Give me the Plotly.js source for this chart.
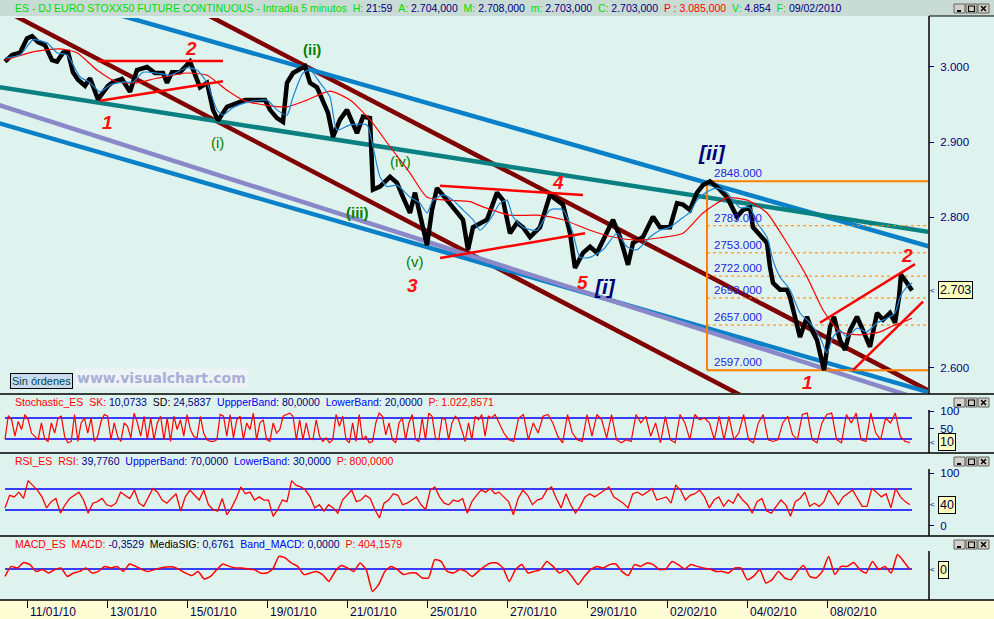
<!DOCTYPE html>
<html><head><meta charset="utf-8">
<script src="https://cdn.plot.ly/plotly-3.0.1.min.js"></script>
<style>html,body{margin:0;padding:0;background:#dff3ee;}#chart{width:994px;height:619px;}</style>
</head><body><div id="chart"></div>
<script>
// ---------------- DATA ----------------
// time axis: trading-day index (11/01/10 = 0)
const dayTicks = [0,2,4,6,8,10,12,14,16,18,20];
const dayLabels = ['11/01/10','13/01/10','15/01/10','19/01/10','21/01/10','25/01/10','27/01/10','29/01/10','02/02/10','04/02/10','08/02/10'];

const priceT = [-0.55,-0.375,-0.175,0,0.125,0.275,0.45,0.625,0.75,0.9,1.025,1.15,1.275,1.45,1.575,1.775,2.025,2.15,2.375,2.575,2.75,3.0,3.2,3.4,3.5,3.625,3.825,4.075,4.325,4.5,4.65,4.775,5.0,5.2,5.45,5.95,6.075,6.25,6.4,6.5,6.65,6.95,7.075,7.25,7.4,7.525,7.65,7.825,8.0,8.25,8.4,8.575,8.65,8.825,9.075,9.25,9.4,9.575,9.7,9.825,10.0,10.125,10.25,10.5,10.75,10.9,11.025,11.15,11.5,11.75,11.9,12.075,12.25,12.4,12.575,12.825,13.075,13.4,13.575,13.7,13.9,14.075,14.25,14.4,14.65,14.825,15.025,15.15,15.4,15.65,15.825,16.075,16.25,16.4,16.575,16.75,16.9,17.075,17.325,17.5,17.75,17.9,18.075,18.15,18.325,18.5,18.575,18.65,18.825,19.0,19.075,19.2,19.325,19.5,19.625,19.75,19.925,20.075,20.175,20.325,20.45,20.575,20.75,20.9,21.075,21.25,21.4,21.575,21.7,21.8,21.85,22.0,22.125];
const priceV = [3007,3016,3019,3038,3041,3033,3029,3009,3007,3019,3020,2993,2983,2975,2985,2957,2975,2980,2984,2967,2996,3000,2992,2992,2979,2993,2993,3007,2973,2979,2943,2929,2947,2951,2956,2956,2943,2932,2927,2979,2992,3001,2979,2973,2956,2939,2907,2930,2943,2912,2934,2932,2837,2841,2854,2846,2827,2806,2833,2806,2763,2810,2839,2823,2806,2797,2757,2787,2797,2833,2823,2779,2793,2787,2774,2787,2830,2817,2779,2733,2753,2761,2753,2770,2797,2774,2737,2766,2774,2801,2787,2787,2819,2817,2810,2833,2843,2848,2837,2827,2801,2810,2813,2787,2777,2766,2734,2713,2704,2704,2694,2668,2641,2668,2650,2637,2597,2654,2668,2637,2624,2650,2668,2650,2628,2673,2664,2673,2660,2694,2724,2713,2703];

const fastMaT = [-0.55,-0.175,0.15,0.5,0.75,1.0,1.325,1.575,1.825,2.075,2.4,2.65,2.9,3.25,3.575,4.0,4.25,4.5,4.75,4.9,5.15,5.5,6.0,6.25,6.5,6.65,6.9,7.075,7.325,7.575,7.75,8.075,8.5,8.65,8.825,9.0,9.25,9.575,9.825,10.0,10.15,10.4,10.65,10.9,11.15,11.325,11.575,11.825,12.0,12.15,12.4,12.75,13.075,13.4,13.65,13.825,14.075,14.4,14.75,15.0,15.25,15.575,15.825,16.075,16.325,16.575,16.75,17.0,17.25,17.5,17.825,18.075,18.25,18.5,18.65,18.825,19.075,19.325,19.575,19.825,20.0,20.15,20.325,20.5,20.75,21.0,21.25,21.5,21.7,21.825,22.0,22.125];
const fastMaV = [3012,3016,3036,3032,3019,3016,2987,2979,2967,2976,2980,2980,2993,2992,2989,2999,2996,2979,2943,2936,2946,2953,2956,2943,2936,2960,2992,2996,2979,2960,2916,2923,2923,2894,2854,2841,2843,2827,2819,2806,2823,2830,2823,2810,2797,2783,2797,2819,2823,2801,2787,2783,2810,2810,2779,2747,2747,2757,2779,2761,2757,2774,2783,2787,2797,2807,2823,2834,2839,2833,2813,2813,2793,2774,2743,2721,2704,2673,2660,2641,2620,2641,2650,2641,2653,2648,2660,2666,2673,2694,2708,2713];

const slowMaT = [-0.55,0.15,0.825,1.25,1.75,2.25,2.75,3.25,4.0,4.5,5.0,5.4,6.0,6.5,7.0,7.575,8.075,8.575,9.075,9.575,10.0,10.5,11.075,11.4,12.075,12.75,13.4,14.075,14.65,15.25,15.825,16.4,16.9,17.5,18.0,18.5,19.0,19.5,19.9,20.325,20.825,21.325,21.65,21.95,22.125];
const slowMaV = [3009,3020,3024,3019,2996,2980,2979,2985,2992,2989,2969,2956,2949,2947,2956,2968,2956,2930,2894,2859,2827,2823,2821,2814,2803,2803,2797,2783,2774,2770,2773,2779,2806,2826,2823,2806,2766,2721,2677,2648,2644,2648,2656,2662,2666];

// trend channels (start/end in day index, price)
const trendStartT = [-1, 4, 2, -1, -1, -1];
const trendStartV = [3087.5, 3083.3, 3073.7, 2929.9, 2975.7, 2954.6];
const trendEndT   = [19, 23, 23, 23, 23, 23];
const trendEndV   = [2531.5, 2557, 2754.8, 2560.7, 2777, 2547];

// red triangle / wedge lines
const wedgeStartT = [1.75, 1.825, 10.325, 10.325, 19.825, 20.65];
const wedgeStartV = [3008, 2955, 2842, 2746, 2660, 2597];
const wedgeEndT   = [4.9, 4.9, 13.9, 13.95, 22.2, 22.4];
const wedgeEndV   = [3008, 2981, 2830, 2779, 2738, 2688];

// Fibonacci retracement
const fibFromT = 17.0, fibToT = 22.7;
const fibLevels = [2848, 2789, 2753, 2722, 2693, 2657, 2597];
const fibLabels = ['2848.000','2789.000','2753.000','2722.000','2693.000','2657.000','2597.000'];

// wave counts
const redWaveText = ['1','2','3','4','5','1','2'];
const redWaveT = [2.0, 4.1, 9.625, 13.275, 13.875, 19.5, 22.0];
const redWaveV = [2926, 3025, 2710, 2846, 2713, 2580, 2750];
const greenWaveText = ['(i)','(ii)','(iii)','(iv)','(v)'];
const greenWaveT = [4.75, 7.125, 8.25, 9.325, 9.7];
const greenWaveV = [2899, 3023, 2807, 2874, 2741];
const blueWaveText = ['[i]','[ii]'];
const blueWaveT = [14.45, 17.125];
const blueWaveV = [2708, 2886];

// price axis (2.700 label is hidden behind the last-price box in the original)
const priceTicks = [2600, 2800, 2900, 3000];
const priceTickText = ['2.600','2.800','2.900','3.000'];
const lastPrice = 2703, lastPriceText = '2.703';

// header
const titleName = 'ES - DJ EURO STOXX50 FUTURE CONTINUOUS - Intradía 5 minutos';
const quoteLabels = ['H:','A:','M:','m:','C:','P :','V:','F:'];
const quoteValues = ['21:59','2.704,000','2.708,000','2.703,000','2.703,000','3.085,000','4.854','09/02/2010'];

// Stochastic
const stochName = 'Stochastic_ES';
const stochLabels = ['SK:','SD:','UppperBand:','LowerBand:','P:'];
const stochValues = ['10,0733','24,5837','80,0000','20,0000','1.022,8571'];
const stochBands = [80, 20];
const stochTicks = [50, 100];
const stochSpanA = [-0.55, 11.7], stochSpanB = [11.8, 22.075];
const stochA = [20,87,75,28,70,47,90,75,37,28,18,66,20,13,66,37,80,85,28,9,13,90,13,66,80,37,80,13,28,70,90,85,18,66,28,13,66,56,23,94,66,28,85,18,80,18,66,85,18,80,13,85,47,75,28,90,47,28,23,85,37,18,13,13,18,90,85,28,90,23,75,85,18,66,47,94,18,66,75,18,13,66,37,47,85,90,94,85,18,75,18,66,23,18,75,28,13,23,9,18,90,56,85,18,9,66,13,90,18,28,9,13,66,94,85,32,66,18,9,66,80,18,66,90,18,13,80,18,94,85,23,18,80,75,18,66,85,75,47,13,66,18,85,75,90,28,85,80,90];
const stochB = [66,37,18,13,80,90,18,66,37,85,90,66,28,9,90,37,18,13,90,28,90,75,23,90,18,9,18,13,90,66,85,28,66,9,85,18,9,90,66,18,90,75,80,66,18,85,18,85,18,37,90,18,9,66,90,18,13,18,66,85,32,18,90,94,18,9,66,90,94,18,9,90,66,94,18,13,94,37,18,80,66,94,28,13,10];
const stochLast = 10.07, stochLastText = '10';

// RSI
const rsiName = 'RSI_ES';
const rsiLabels = ['RSI:','UppperBand:','LowerBand:','P:'];
const rsiValues = ['39,7760','70,0000','30,0000','800,0000'];
const rsiBands = [70, 30];
const rsiTicks = [0, 100];
const rsiSpanA = [-0.55, 11.7], rsiSpanB = [11.8, 22.075];
const rsiA = [34,58,55,64,52,86,77,68,55,34,46,52,24,40,52,58,64,49,24,43,46,52,40,37,43,64,58,52,68,43,37,55,71,64,49,43,52,61,28,55,68,58,49,68,40,31,28,52,21,34,52,74,61,64,49,55,49,49,18,31,49,46,86,77,74,68,55,34,40,28,40,34,24,49,58,68,46,49,58,52,31,15,43,49,61,58,40,43,49,55,40,31,68,74,55,43,40,49,46,52,24,46,58,68,64,71,61];
const rsiB = [64,55,46,21,52,68,58,40,49,52,68,74,52,34,61,40,24,37,55,61,55,61,68,74,55,49,43,34,61,64,58,64,71,49,52,55,43,77,68,49,58,61,68,55,34,49,55,37,49,43,61,49,40,24,46,52,28,24,37,49,40,18,46,52,64,37,43,37,46,68,55,40,55,61,68,52,37,37,71,64,55,61,34,71,55,46,40];
const rsiLast = 39.78, rsiLastText = '40';

// MACD
const macdName = 'MACD_ES';
const macdLabels = ['MACD:','MediaSIG:','Band_MACD:','P:'];
const macdValues = ['-0,3529','0,6761','0,0000','404,1579'];
const macdBand = [0];
const macdSpanA = [-0.55, 11.75], macdSpanB = [11.9, 22.075];
const macdA = [-3.7,1.3,0.5,3.3,2.2,-1.2,-0.3,-2,-0.3,0.5,-3.7,-2,-1.2,0.5,-2,-1.2,1.3,0.5,1.3,-1.2,2.5,1.3,-0.3,-1.2,-0.3,0.5,1,1,-0.3,-2,-3.3,-1.2,-5,-3.7,-0.3,2.5,1.3,0.5,0.5,0,-0.3,-2,-2,0,6.3,5.5,3,1.3,-2.8,-2,-1.2,-2.8,-6.2,-1.2,1.7,0.5,-1.2,3,-0.3,-11.2,-7.8,-1.2,1.3,-0.3,-2.8,-2,-2,-4.5,-4.5,4.7,3.8,-1.2,-2,-0.3,-1.2,-3.7,-1.2,1.3,3,3];
const macdB = [0.5,-6.2,-0.3,2.2,-2,-1.2,-0.3,3.8,1.3,-2,-0.3,-3.7,-7.8,-3.7,-0.3,1.3,0.5,2.2,2.5,-1.2,-3.3,2.2,1.3,3,2.2,-0.3,0,3.8,2.2,0,2.2,1.3,0.5,0,-1.2,-1.2,-2,0.5,0.5,-5.3,-3.7,-0.3,-7,-5.3,-1.2,-4.5,-5.3,-1.2,1.7,-3.7,-4.5,-1.2,6.3,-2.8,1.3,1.3,3.3,-0.3,-2,3.8,-0.3,1.3,-2,7.2,3.8,-0.4];
const macdLast = -0.35, macdLastText = '0';

// ---------------- BUILD ----------------
const W = 994, H = 619;
const FONT = 'Liberation Sans, Arial, sans-serif';
const px = x => x / W;
const py = y => 1 - y / H;
const spread = (span, n) => Array.from({length: n}, (_, i) => span[0] + (span[1] - span[0]) * i / (n - 1));

const traces = [];
const trendColors = ['#800000','#800000','#0a80c8','#0a80c8','#0a8080','#8a88c8'];
for (let i = 0; i < trendStartT.length; i++) {
  traces.push({x:[trendStartT[i], trendEndT[i]], y:[trendStartV[i], trendEndV[i]], mode:'lines', line:{color:trendColors[i], width:4.5}, hoverinfo:'skip'});
}
// fib
traces.push({x:[fibFromT, fibFromT], y:[fibLevels[fibLevels.length-1], fibLevels[0]], mode:'lines', line:{color:'#ff8000', width:2}, hoverinfo:'skip'});
fibLevels.forEach((lv, i) => {
  const solid = (i === 0 || i === fibLevels.length - 1);
  traces.push({x:[fibFromT, fibToT], y:[lv, lv], mode:'lines', line:{color:'#ff8000', width: solid ? 2 : 1, dash: solid ? 'solid' : '3px,3px'}, hoverinfo:'skip'});
});
// price
traces.push({x:priceT, y:priceV, mode:'lines', line:{color:'#000000', width:4.5}, hoverinfo:'skip'});
traces.push({x:slowMaT, y:slowMaV, mode:'lines', line:{color:'#ff0000', width:1.2, shape:'spline', smoothing:0.6}, hoverinfo:'skip'});
traces.push({x:fastMaT, y:fastMaV, mode:'lines', line:{color:'#1a86d6', width:1.2, shape:'spline', smoothing:0.6}, hoverinfo:'skip'});
for (let i = 0; i < wedgeStartT.length; i++) {
  traces.push({x:[wedgeStartT[i], wedgeEndT[i]], y:[wedgeStartV[i], wedgeEndV[i]], mode:'lines', line:{color:'#ff0000', width:2.5}, hoverinfo:'skip'});
}
// indicators
const fullSpan = [priceT[0], priceT[priceT.length-1]];
stochBands.forEach(b => traces.push({x:fullSpan, y:[b,b], yaxis:'y2', mode:'lines', line:{color:'#0000ff', width:1.5}, hoverinfo:'skip'}));
traces.push({x:spread(stochSpanA, stochA.length).concat(spread(stochSpanB, stochB.length)), y:stochA.concat(stochB), yaxis:'y2', mode:'lines', line:{color:'#ff0000', width:1.2}, hoverinfo:'skip'});
rsiBands.forEach(b => traces.push({x:fullSpan, y:[b,b], yaxis:'y3', mode:'lines', line:{color:'#0000ff', width:1.5}, hoverinfo:'skip'}));
traces.push({x:spread(rsiSpanA, rsiA.length).concat(spread(rsiSpanB, rsiB.length)), y:rsiA.concat(rsiB), yaxis:'y3', mode:'lines', line:{color:'#ff0000', width:1.3}, hoverinfo:'skip'});
macdBand.forEach(b => traces.push({x:fullSpan, y:[b,b], yaxis:'y4', mode:'lines', line:{color:'#0000ff', width:1.5}, hoverinfo:'skip'}));
traces.push({x:spread(macdSpanA, macdA.length).concat(spread(macdSpanB, macdB.length)), y:macdA.concat(macdB), yaxis:'y4', mode:'lines', line:{color:'#ff0000', width:1.5, shape:'spline', smoothing:0.5}, hoverinfo:'skip'});

// annotations
const ann = [];
const span = (c, t) => `<span style="color:${c}">${t}</span>`;
const NAVY = '#000080', GREEN = '#00dd00', RED = '#ff0000', BLUE = '#0000ff';
const HFS = 10.5;
let hdr = span(GREEN, titleName);
quoteLabels.forEach((l, i) => {
  const isP = l.startsWith('P');
  hdr += '&nbsp;&nbsp;' + span(isP ? RED : GREEN, l) + '&nbsp;' + span(isP ? RED : NAVY, quoteValues[i]);
});
ann.push({xref:'paper', yref:'paper', x:px(13), y:py(8), xanchor:'left', yanchor:'middle', text:hdr, showarrow:false, font:{family:FONT, size:HFS}});

function indHeader(name, labels, values, labelColors, yPix) {
  let s = span(RED, name);
  labels.forEach((l, i) => {
    s += '&nbsp;&nbsp;' + span(labelColors[i], l) + '&nbsp;' + span(l === 'P:' ? RED : NAVY, values[i]);
  });
  ann.push({xref:'paper', yref:'paper', x:px(13), y:py(yPix), xanchor:'left', yanchor:'middle', text:s, showarrow:false, font:{family:FONT, size:HFS}});
}
indHeader(stochName, stochLabels, stochValues, [RED,'#000000',BLUE,BLUE,RED], 402);
indHeader(rsiName, rsiLabels, rsiValues, [RED,BLUE,BLUE,RED], 461);
indHeader(macdName, macdLabels, macdValues, [RED,'#000000',BLUE,RED], 544);

// date labels (left-aligned at each tick, like the original)
dayTicks.forEach((d, i) => ann.push({xref:'x', yref:'paper', x:d, y:py(611.5), xanchor:'left', yanchor:'middle', xshift:1, text:dayLabels[i], showarrow:false, font:{family:FONT, size:12, color:'#000050'}}));

// fib labels
fibLevels.forEach((lv, i) => ann.push({xref:'x', yref:'y', x:fibFromT + 0.12, y:lv, xanchor:'left', yanchor:'bottom', text:fibLabels[i], showarrow:false, font:{family:FONT, size:11.5, color:'#2424e0'}}));
// waves
redWaveText.forEach((t, i) => ann.push({xref:'x', yref:'y', x:redWaveT[i], y:redWaveV[i], text:'<b><i>'+t+'</i></b>', showarrow:false, font:{family:FONT, size:19, color:'#ff1010'}}));
const greenBold = [false, true, true, false, false];
greenWaveText.forEach((t, i) => ann.push({xref:'x', yref:'y', x:greenWaveT[i], y:greenWaveV[i], text: greenBold[i] ? '<b>'+t+'</b>' : t, showarrow:false, font:{family:FONT, size:15, color:'#008000'}}));
blueWaveText.forEach((t, i) => ann.push({xref:'x', yref:'y', x:blueWaveT[i], y:blueWaveV[i], text:'<b><i>'+t+'</i></b>', showarrow:false, font:{family:FONT, size:21, color:'#00007a'}}));

// last value boxes with small pointer
const box = (yref, yv, txt) => {
  ann.push({xref:'paper', yref:yref, x:px(929), y:yv, xanchor:'left', text:'<', showarrow:false, borderpad:0, font:{family:FONT, size:8, color:NAVY}});
  ann.push({xref:'paper', yref:yref, x:px(938), y:yv, xanchor:'left', text:txt, showarrow:false, bgcolor:'#ffffc0', bordercolor:'#000000', borderwidth:1, borderpad:1, font:{family:FONT, size:12.5, color:'#000030'}});
};
box('y', lastPrice, lastPriceText);
box('y2', stochLast, stochLastText);
box('y3', rsiLast, rsiLastText);
box('y4', macdLast, macdLastText);

ann.push({xref:'paper', yref:'paper', x:px(10), y:py(380.5), xanchor:'left', yanchor:'middle', text:'Sin órdenes', showarrow:false, bgcolor:'#c9d9ee', bordercolor:'#000000', borderwidth:1, borderpad:1, font:{family:FONT, size:11, color:'#004444'}});
ann.push({xref:'paper', yref:'paper', x:px(75), y:py(378), xanchor:'left', yanchor:'middle', text:'<b>www.visualchart.com</b>', showarrow:false, bgcolor:'#eef4f6', font:{family:'DejaVu Sans, Verdana, sans-serif', size:14, color:'#a8aed6'}});

// shapes
const shapes = [];
shapes.push({type:'rect', xref:'paper', yref:'paper', x0:0, x1:1, y0:py(16), y1:1, fillcolor:'#c9dbd5', line:{width:0}, layer:'below'});
shapes.push({type:'rect', xref:'paper', yref:'paper', x0:0, x1:1, y0:0, y1:py(600), fillcolor:'#fefcd2', line:{width:0}, layer:'below'});
[394, 453, 536, 600].forEach(yy => shapes.push({type:'line', xref:'paper', yref:'paper', x0:0, x1:1, y0:py(yy), y1:py(yy), line:{color:'#000000', width:1.5}}));
shapes.push({type:'line', xref:'paper', yref:'paper', x0:px(929), x1:1, y0:py(16), y1:py(16), line:{color:'#000000', width:1}});
[[16,394],[410,453],[469,536],[551,600]].forEach(s => shapes.push({type:'line', xref:'paper', yref:'paper', x0:px(929), x1:px(929), y0:py(s[0]), y1:py(s[1]), line:{color:'#000000', width:1.5}}));
[4, 398, 457, 540].forEach(ty => {
  [954, 966, 978].forEach((bx, k) => {
    shapes.push({type:'rect', xref:'paper', yref:'paper', x0:px(bx), x1:px(bx+11), y0:py(ty+9), y1:py(ty), fillcolor:'#d4d0c8', line:{color:'#606060', width:1}});
    if (k === 0) shapes.push({type:'line', xref:'paper', yref:'paper', x0:px(bx+3), x1:px(bx+7), y0:py(ty+7), y1:py(ty+7), line:{color:'#000', width:2}});
    if (k === 1) shapes.push({type:'rect', xref:'paper', yref:'paper', x0:px(bx+2.5), x1:px(bx+8.5), y0:py(ty+7.5), y1:py(ty+2), line:{color:'#000', width:1.2}});
    if (k === 2) {
      shapes.push({type:'line', xref:'paper', yref:'paper', x0:px(bx+3), x1:px(bx+8), y0:py(ty+2), y1:py(ty+7), line:{color:'#000', width:1.5}});
      shapes.push({type:'line', xref:'paper', yref:'paper', x0:px(bx+8), x1:px(bx+3), y0:py(ty+2), y1:py(ty+7), line:{color:'#000', width:1.5}});
    }
  });
});

const yBase = {side:'right', anchor:'x', showgrid:false, zeroline:false, showline:false, ticks:'outside', ticklen:5, tickcolor:NAVY, ticklabelstandoff:4, tickfont:{family:FONT, size:11.5, color:NAVY}, fixedrange:true};
const layout = {
  width:W, height:H, autosize:false,
  margin:{l:0, r:0, t:0, b:0, pad:0},
  paper_bgcolor:'#dff3ee', plot_bgcolor:'rgba(0,0,0,0)',
  showlegend:false,
  xaxis:{domain:[0, 928/W], range:[-0.675, 22.525], anchor:'y4', tickvals:dayTicks, showticklabels:false, ticks:'outside', ticklen:7, tickcolor:'#000', showline:false, showgrid:false, zeroline:false, fixedrange:true},
  yaxis:Object.assign({}, yBase, {domain:[py(393), py(18)], range:[2566.7, 3065.1], tickvals:priceTicks, ticktext:priceTickText}),
  yaxis2:Object.assign({}, yBase, {domain:[py(453), py(394)], range:[-20, 148.6], tickvals:stochTicks}),
  yaxis3:Object.assign({}, yBase, {domain:[py(536), py(453)], range:[-19.5, 138.6], tickvals:rsiTicks}),
  yaxis4:Object.assign({}, yBase, {domain:[py(600), py(536)], range:[-15.5, 16.5], tickvals:[], showticklabels:false}),
  annotations:ann, shapes:shapes
};
Plotly.newPlot('chart', traces, layout, {staticPlot:true, displayModeBar:false});
</script></body></html>
